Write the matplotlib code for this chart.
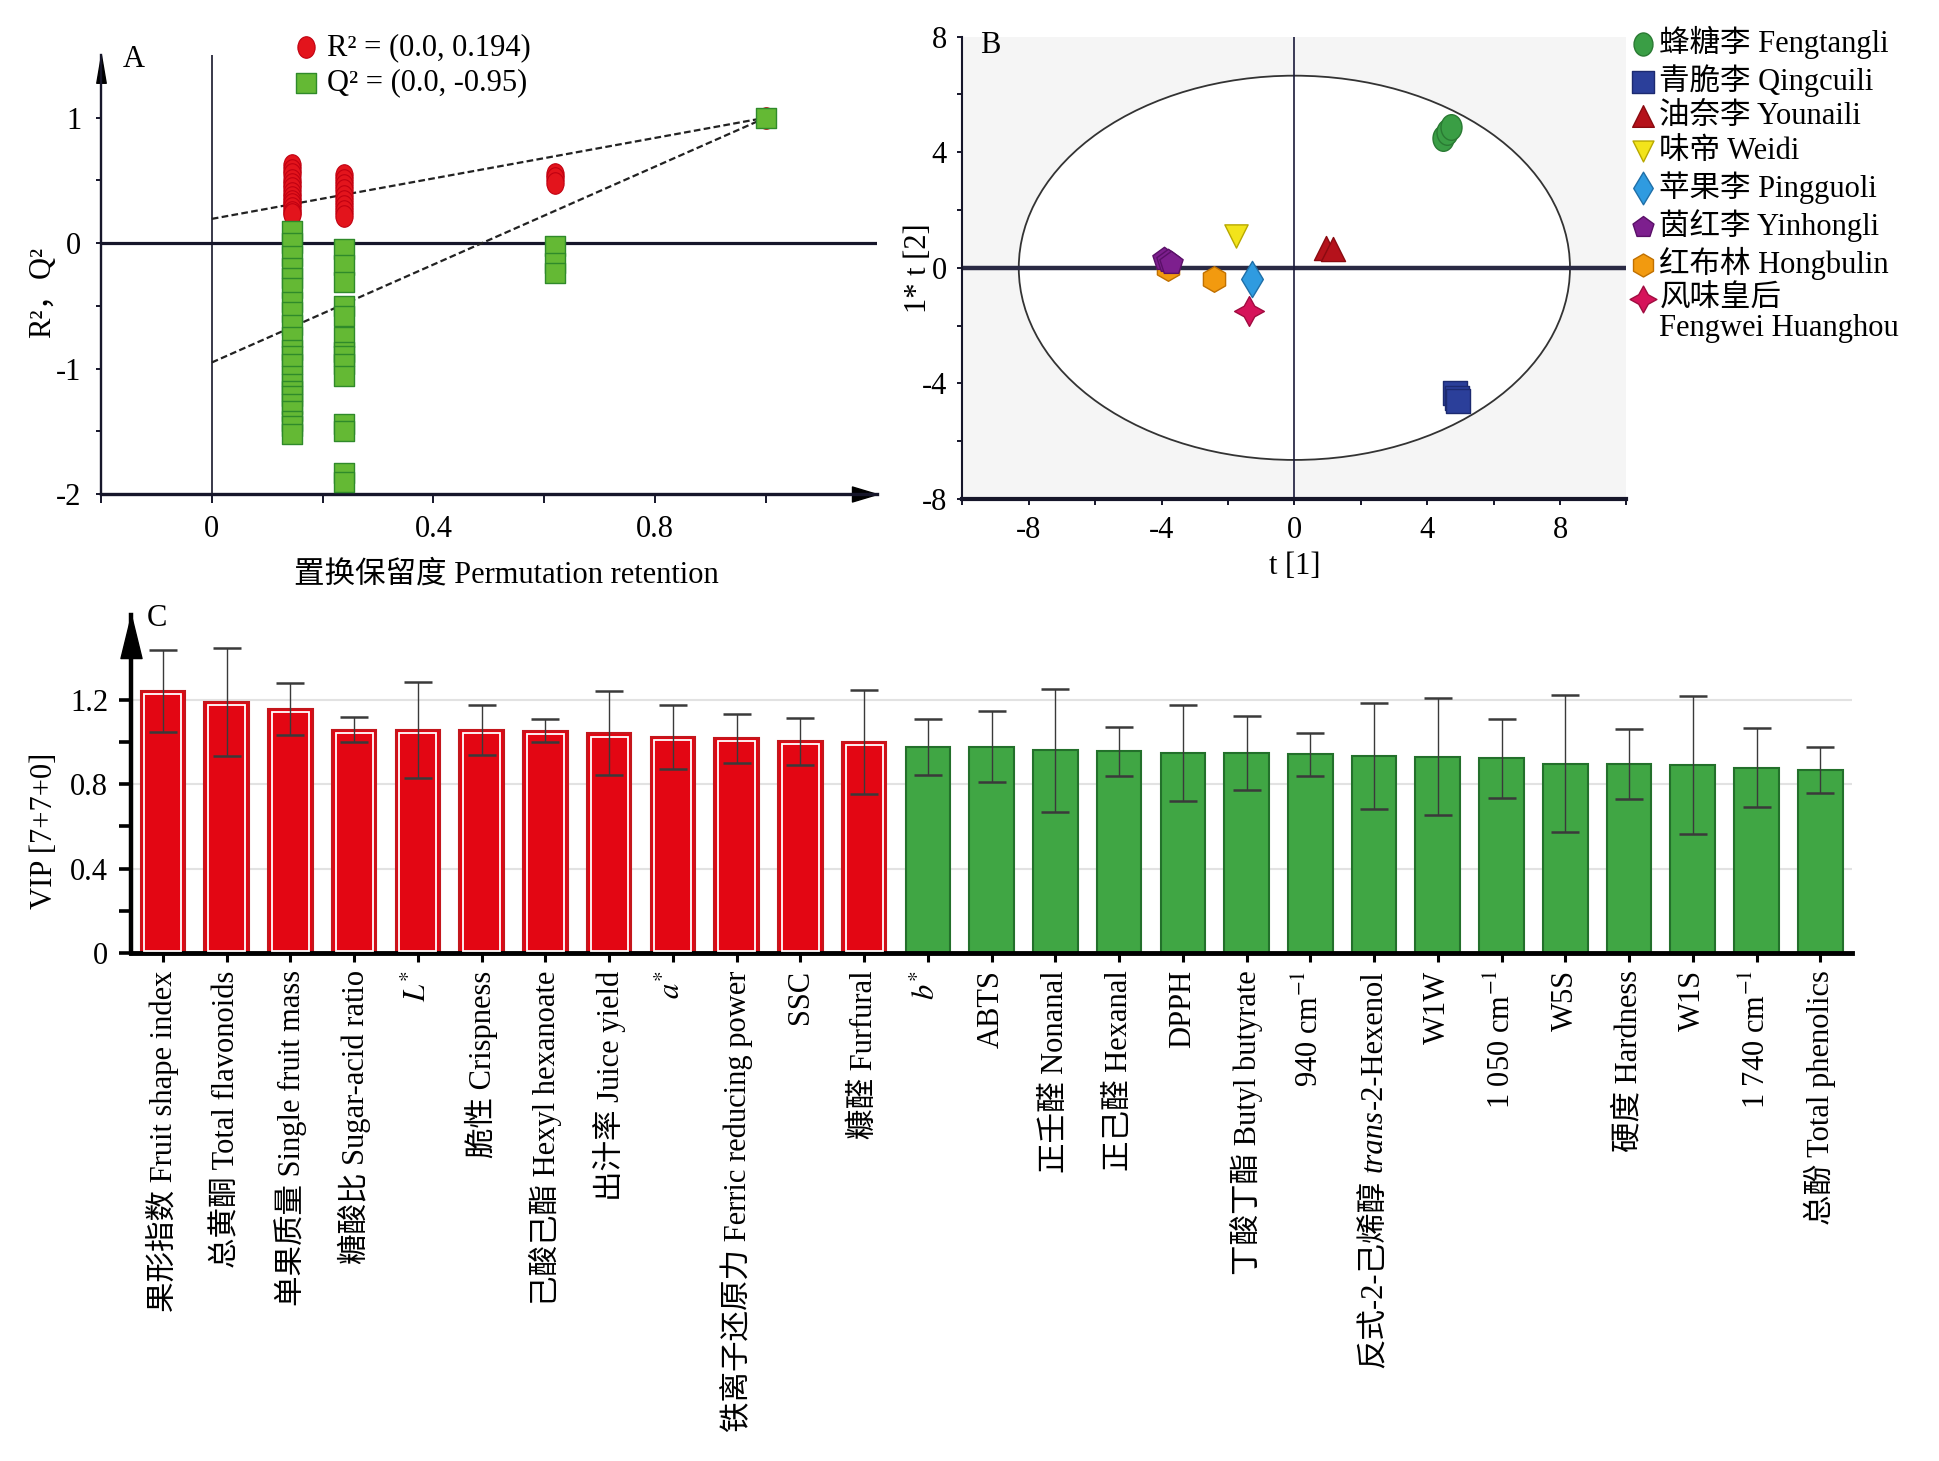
import numpy as np
import matplotlib
matplotlib.use("Agg")
import matplotlib.pyplot as plt
from matplotlib.path import Path
from matplotlib.transforms import Affine2D
from matplotlib.patches import Ellipse

plt.rcParams["font.family"] = ["Liberation Serif", "Noto Sans CJK SC"]
plt.rcParams["mathtext.fontset"] = "stix"
plt.rcParams["axes.unicode_minus"] = False
plt.rcParams["font.size"] = 22

# A: permutation test
retention = [0.145, 0.238, 0.62, 1.0]
r2_perm = [
    [0.62, 0.58, 0.55, 0.50, 0.47, 0.44, 0.40, 0.37, 0.34, 0.31, 0.28, 0.25, 0.23],
    [0.54, 0.50, 0.46, 0.42, 0.38, 0.34, 0.30, 0.26, 0.22],
    [0.55, 0.52, 0.48],
    [1.0],
]
q2_perm = [
    [0.10, 0.0, -0.10, -0.20, -0.28, -0.36, -0.47, -0.55, -0.65, -0.75, -0.85,
     -0.90, -0.96, -1.06, -1.12, -1.18, -1.22, -1.28, -1.34, -1.42, -1.46, -1.52],
    [-0.05, -0.17, -0.31, -0.50, -0.58, -0.75, -0.87, -0.90, -0.96, -1.06,
     -1.44, -1.50, -1.83, -1.90],
    [-0.02, -0.16, -0.24],
    [1.0],
]
r2_intercept = 0.194
q2_intercept = -0.95

# B: score plot
cultivars = ["蜂糖李 Fengtangli", "青脆李 Qingcuili", "油奈李 Younaili", "味帝 Weidi",
             "苹果李 Pingguoli", "茵红李 Yinhongli", "红布林 Hongbulin", "风味皇后"]
t1 = [[4.47, 4.61, 4.73], [4.85, 4.90, 4.92], [0.95, 1.15], [-1.77], [-1.27],
      [-3.92, -3.80, -3.72], [-2.43, -3.80], [-1.37]]
t2 = [[4.49, 4.69, 4.89], [-4.35, -4.50, -4.60], [0.70, 0.66], [1.10], [-0.40],
      [0.31, 0.24, 0.17], [-0.40, 0.0], [-1.49]]
t2_ellipse = (8.3, 6.65)

# C: VIP
vip_labels = ["果形指数 Fruit shape index", "总黄酮 Total flavonoids", "单果质量 Single fruit mass",
              "糖酸比 Sugar-acid ratio", "$L^{*}$", "脆性 Crispness", "己酸己酯 Hexyl hexanoate",
              "出汁率 Juice yield", "$a^{*}$", "铁离子还原力 Ferric reducing power", "SSC",
              "糠醛 Furfural", "$b^{*}$", "ABTS", "正壬醛 Nonanal", "正己醛 Hexanal", "DPPH",
              "丁酸丁酯 Butyl butyrate", "940 cm$^{-1}$", "反式-2-己烯醇 trans-2-Hexenol", "W1W",
              "1 050 cm$^{-1}$", "W5S", "硬度 Hardness", "W1S", "1 740 cm$^{-1}$", "总酚 Total phenolics"]
vip = [1.240, 1.188, 1.155, 1.058, 1.057, 1.055, 1.052, 1.040, 1.022, 1.017, 1.003, 0.998,
       0.977, 0.977, 0.960, 0.955, 0.948, 0.946, 0.940, 0.934, 0.930, 0.921, 0.897, 0.894,
       0.891, 0.878, 0.866]
vip_err = [0.193, 0.254, 0.123, 0.059, 0.228, 0.117, 0.055, 0.199, 0.151, 0.117, 0.112, 0.246,
           0.132, 0.169, 0.291, 0.116, 0.227, 0.175, 0.100, 0.251, 0.278, 0.185, 0.326, 0.165,
           0.328, 0.186, 0.108]
n_key = 12

dark = "#16162a"
oval = Path.unit_circle().transformed(Affine2D().scale(0.8, 1.0))


def arrow_path(w, up=True):
    if up:
        return Path([(-w, -2), (0, 0), (w, -2), (-w, -2)], closed=True)
    return Path([(-2, -w), (0, 0), (-2, w), (-2, -w)], closed=True)


fig = plt.figure(figsize=(19.39, 14.61), dpi=100)

# ---------------- A ----------------
axA = fig.add_axes([0.0521, 0.6617, 0.400, 0.3007])
for i, x in enumerate(retention):
    axA.scatter([x] * len(r2_perm[i]), r2_perm[i], marker=oval, s=240, facecolor="#e3141c",
                edgecolor="#c00010", lw=0.8, zorder=3,
                label=f"R² = (0.0, {r2_intercept})" if i == 0 else None)
    axA.scatter([x] * len(q2_perm[i]), q2_perm[i], marker="s", s=190, facecolor="#64b934",
                edgecolor="#2f8a2a", lw=1.0, zorder=4,
                label=f"Q² = (0.0, {q2_intercept})" if i == 0 else None)
for b, end in ((r2_intercept, r2_perm[-1][0]), (q2_intercept, q2_perm[-1][0])):
    axA.plot([0, retention[-1]], [b, end], ls=(0, (3, 1.5)), color="#222222", lw=1.6, zorder=2)
axA.axhline(0, color=dark, lw=2.3, zorder=1)
axA.axvline(0, color=dark, lw=1.2, zorder=1)
axA.set_xlim(-0.2, 1.2)
axA.set_ylim(-2, 1.5)
axA.set_xticks([-0.2, 0, 0.2, 0.4, 0.6, 0.8, 1.0])
axA.set_xticklabels(["", "0", "", "0.4", "", "0.8", ""])
axA.set_yticks([-2, -1.5, -1, -0.5, 0, 0.5, 1])
axA.set_yticklabels(["-2", "", "-1", "", "0", "", "1"])
axA.tick_params(axis="x", direction="out", length=6.5, width=1.4, pad=8.5, labelsize=22, color=dark)
axA.tick_params(axis="y", direction="out", length=3.6, width=1.4, pad=10.5, labelsize=22, color=dark)
for s in ("top", "right"):
    axA.spines[s].set_visible(False)
axA.spines["left"].set_linewidth(1.7)
axA.spines["bottom"].set_linewidth(2.4)
axA.spines["left"].set_color(dark)
axA.spines["bottom"].set_color(dark)
axA.plot([0], [1], marker=arrow_path(0.34), ms=40, color="black", transform=axA.transAxes, clip_on=False)
axA.plot([1], [0], marker=arrow_path(0.6, up=False), ms=36, color="black", transform=axA.transAxes, clip_on=False)
axA.set_xlabel("置换保留度 Permutation retention", fontsize=22)
axA.xaxis.set_label_coords(0.523, -0.15)
axA.set_ylabel("R²，Q²", fontsize=22)
axA.yaxis.set_label_coords(-0.057, 0.46)
axA.legend(loc="upper left", bbox_to_anchor=(0.142, 0.988), bbox_transform=fig.transFigure,
           frameon=False, handletextpad=0.2, labelspacing=0.22, borderpad=0, handlelength=1.0,
           fontsize=22, scatterpoints=1)
fig.text(0.0633, 0.959, "A", fontsize=22, va="center")

# ---------------- B ----------------
axB = fig.add_axes([0.4963, 0.6585, 0.3425, 0.3164])
axB.set_facecolor("#f5f5f5")
axB.add_patch(Ellipse((0, 0), 2 * t2_ellipse[0], 2 * t2_ellipse[1], facecolor="white",
                      edgecolor="#333333", lw=1.3, zorder=0.5))
axB.axhline(0, color="#2a2a44", lw=3.2, zorder=1)
axB.axvline(0, color="#1a1a3a", lw=1.2, zorder=1)
b_markers = [Path.unit_circle().transformed(Affine2D().scale(0.82, 1.0)), "s", "^", "v", "d", "p", "h", (4, 1, 0)]
b_colors = ["#3a9e45", "#2b3f9a", "#b5121b", "#f2e41b", "#2f9be0", "#7d1f8e", "#f29a0f", "#d6135a"]
b_edges = ["#2a7a33", "#1c2a70", "#8a0a10", "#b8a800", "#1f6fa8", "#5a1068", "#c07000", "#a00c40"]
b_sizes = [340, 300, 300, 280, 340, 310, 340, 460]
b_z = [3, 3, 3, 3, 3, 4, 3, 3]
for i, name in enumerate(cultivars):
    axB.scatter(t1[i], t2[i], marker=b_markers[i], s=b_sizes[i], facecolor=b_colors[i],
                edgecolor=b_edges[i], lw=1.0, zorder=b_z[i], label=name)
axB.set_xlim(-10, 10)
axB.set_ylim(-8, 8)
axB.set_xticks([-8, -4, 0, 4, 8])
axB.set_xticks([-10, -6, -2, 2, 6, 10], minor=True)
axB.set_yticks([-8, -4, 0, 4, 8])
axB.set_yticks([-6, -2, 2, 6], minor=True)
axB.tick_params(axis="x", which="both", direction="out", length=4.5, width=1.4, pad=8, labelsize=22, color=dark)
axB.tick_params(axis="y", which="both", direction="out", length=3.6, width=1.4, pad=7.5, labelsize=22, color=dark)
for s in ("top", "right"):
    axB.spines[s].set_visible(False)
axB.spines["left"].set_linewidth(1.5)
axB.spines["bottom"].set_linewidth(3.0)
axB.spines["left"].set_color(dark)
axB.spines["bottom"].set_color(dark)
axB.set_xlabel("t [1]", fontsize=22)
axB.xaxis.set_label_coords(0.5, -0.115)
axB.set_ylabel("1* t [2]", fontsize=22)
axB.yaxis.set_label_coords(-0.044, 0.5)
legB = axB.legend(loc="upper left", bbox_to_anchor=(0.833, 0.9926), bbox_transform=fig.transFigure,
                  frameon=False, handletextpad=0.15, labelspacing=0.17, borderpad=0,
                  handlelength=0.8, fontsize=22, scatterpoints=1, markerscale=0.9)
axB.annotate("Fengwei Huanghou", xy=(0, 0), xycoords=legB.get_texts()[-1], ha="left", va="top",
             fontsize=22, annotation_clip=False, zorder=10)
fig.text(0.5054, 0.969, "B", fontsize=22, va="center")

# ---------------- C ----------------
axC = fig.add_axes([0.0676, 0.3477, 0.8876, 0.2313])
xs = np.arange(len(vip))
vip_a = np.array(vip)
axC.bar(xs[:n_key], vip_a[:n_key], 0.7, color="#e30613", edgecolor="#c4161c", lw=1.5, zorder=2)
axC.bar(xs[:n_key], vip_a[:n_key] - 0.025, 0.58, bottom=0.01, fill=False, edgecolor="white",
        lw=1.3, zorder=3)
axC.bar(xs[n_key:], vip_a[n_key:], 0.7, color="#40a644", edgecolor="#23702b", lw=1.5, zorder=2)
axC.errorbar(xs, vip, yerr=vip_err, fmt="none", ecolor="#3a3a3a", elinewidth=1.0, capsize=10,
             capthick=1.8, zorder=4)
axC.set_xlim(-0.5, 26.5)
axC.set_ylim(0, 1.6)
axC.set_yticks([0, 0.4, 0.8, 1.2])
axC.set_yticklabels(["0", "0.4", "0.8", "1.2"])
axC.set_yticks([0.2, 0.6, 1.0], minor=True)
axC.grid(axis="y", which="major", color="#e2e2e2", lw=1.5, zorder=0)
axC.set_xticks(xs)
tick_text = [("" if "trans" in lab else lab) for lab in vip_labels]
axC.set_xticklabels(tick_text, rotation=90, ha="center", va="top", fontsize=22)
axC.tick_params(axis="x", direction="out", length=6.5, width=2.2, pad=6, color="black")
axC.tick_params(axis="y", which="both", direction="out", length=8.4, width=2.6, pad=8, labelsize=22)
for s in ("top", "right"):
    axC.spines[s].set_visible(False)
axC.spines["left"].set_linewidth(3.2)
axC.spines["bottom"].set_linewidth(3.5)
axC.plot([0], [1], marker=arrow_path(0.49), ms=62, color="black", transform=axC.transAxes, clip_on=False)
axC.set_ylabel("VIP [7+7+0]", fontsize=22)
axC.yaxis.set_label_coords(-0.042, 0.36)
fig.text(0.0758, 0.577, "C", fontsize=22, va="center")

# label with italic "trans": pieces stacked downward from the axis
for i, lab in enumerate(vip_labels):
    if "trans" not in lab:
        continue
    head, tail = lab.split("trans")
    head = head.strip()
    t = axC.annotate(tail, xy=(xs[i], 0), xycoords=("data", "axes fraction"), xytext=(0, -12.5),
                     textcoords="offset points", rotation=90, ha="center", va="top",
                     fontsize=22, annotation_clip=False)
    t = axC.annotate("trans", xy=(0.5, 0), xycoords=t, xytext=(0, 0), textcoords="offset points",
                     rotation=90, ha="center", va="top", fontsize=22, style="italic",
                     annotation_clip=False)
    axC.annotate(head, xy=(0.5, 0), xycoords=t, xytext=(0, -5.5), textcoords="offset points",
                 rotation=90, ha="center", va="top", fontsize=22, annotation_clip=False)

fig.savefig("out.png", dpi=100)
